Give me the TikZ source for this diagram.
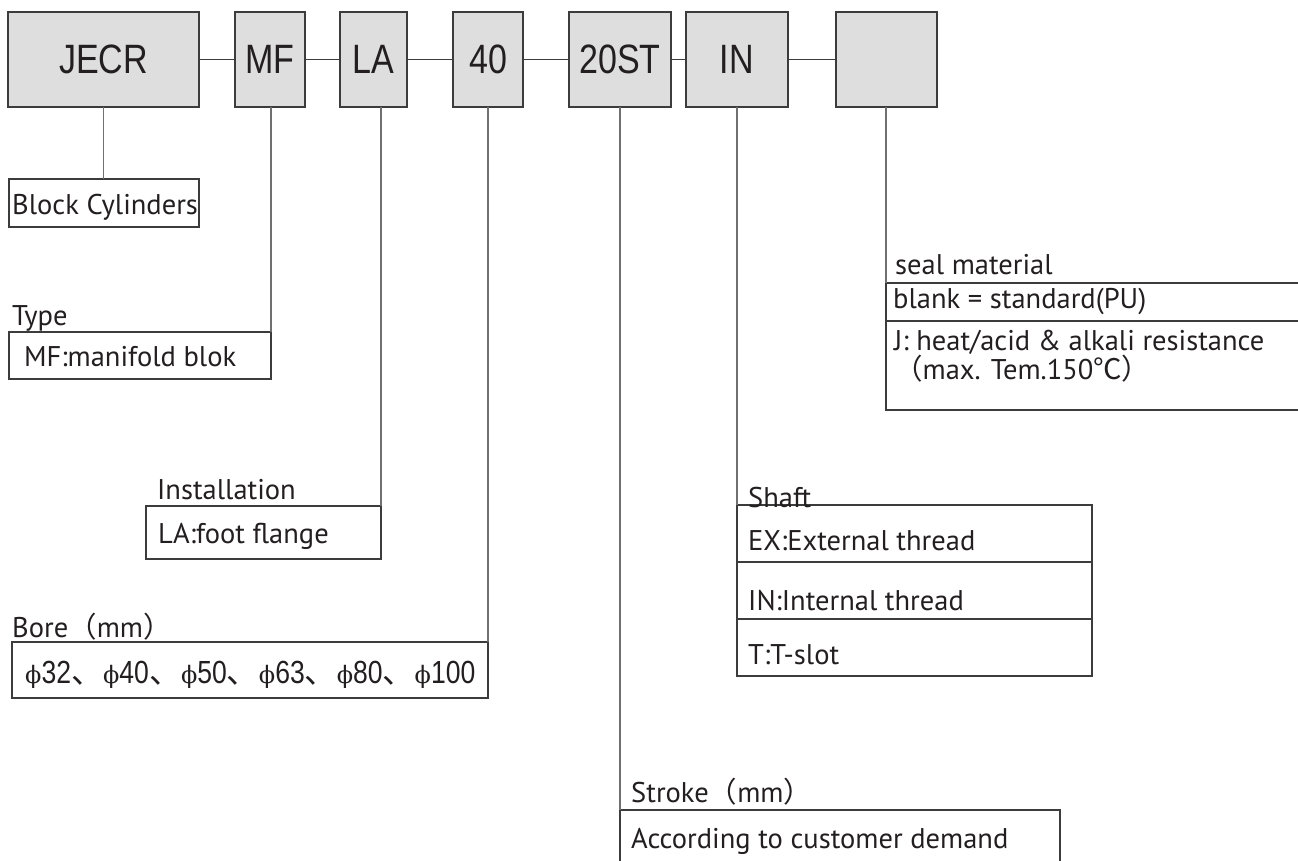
\documentclass[tikz,border=0pt]{standalone}
\usepackage{fontspec}
\setmainfont{PT Sans}
\newfontfamily\codefont[FakeStretch=0.83]{Liberation Sans}
\newfontfamily\cjk{Noto Sans CJK SC}
\newfontfamily\phifont{DejaVu Serif}
\newcommand{\dia}{{\phifont\fontsize{24}{24}\selectfont ϕ}}
\newcommand{\dun}{{\cjk 、}}
\usetikzlibrary{positioning}
\definecolor{boxfill}{HTML}{DEDEDE}
\definecolor{boxline}{HTML}{3C3C3C}
\definecolor{stemline}{HTML}{707070}
\definecolor{ink}{HTML}{231F20}

\begin{document}
\begin{tikzpicture}[
  x=1pt,
  y=-1pt,
  every node/.style={text=ink},
  code/.style={draw=boxline, fill=boxfill, line width=1.2pt, minimum height=95, inner sep=0pt, outer sep=0pt, font=\codefont\fontsize{41}{41}\selectfont},
  desc/.style={draw=boxline, line width=1.1pt, anchor=north west, inner sep=0pt, outer sep=0pt},
  txt/.style={anchor=base west, inner sep=0pt, font=\fontsize{28.5}{29}\selectfont},
  link/.style={draw=boxline, line width=1.4pt},
  stem/.style={draw=stemline, line width=1.1pt}
]
  \clip (0,0) rectangle (1298,860);

  \node[code, minimum width=191] (cseries) at (103.5,59.5) {JECR};
  \node[code, minimum width=70] (ctype) at (270,59.5) {MF};
  \node[code, minimum width=67] (cmount) at (373.5,59.5) {LA};
  \node[code, minimum width=70] (cbore) at (488,59.5) {40};
  \node[code, minimum width=102] (cstroke) at (620,59.5) {20ST};
  \node[code, minimum width=102] (cshaft) at (737,59.5) {IN};
  \node[code, minimum width=101] (cseal) at (886.5,59.5) {};

  \draw[link] (cseries) -- (ctype);
  \draw[link] (ctype) -- (cmount);
  \draw[link] (cmount) -- (cbore);
  \draw[link] (cbore) -- (cstroke);
  \draw[link] (cstroke) -- (cshaft);
  \draw[link] (cshaft) -- (cseal);

  \node[desc, minimum width=190, minimum height=48] (series) at (9,179) {};
  \node[desc, minimum width=262, minimum height=47] (type) at (9,332) {};
  \node[desc, minimum width=235, minimum height=53] (mount) at (146,506) {};
  \node[desc, minimum width=476, minimum height=56] (bore) at (12,642) {};
  \node[desc, minimum width=440, minimum height=70] (stroke) at (620,810) {};
  \node[desc, minimum width=355, minimum height=57] (shaftex) at (737,505) {};
  \node[desc, minimum width=355, minimum height=57] (shaftin) at (737,562) {};
  \node[desc, minimum width=355, minimum height=57] (shaftt) at (737,619) {};
  \node[desc, minimum width=430, minimum height=38] (sealstd) at (886,283) {};
  \node[desc, minimum width=430, minimum height=89] (sealj) at (886,321) {};

  \draw[stem] (cseries.south) -- (cseries.south |- series.north);
  \draw[stem] (type.north east |- ctype.south) -- (type.north east);
  \draw[stem] (mount.north east |- cmount.south) -- (mount.north east);
  \draw[stem] (bore.north east |- cbore.south) -- (bore.north east);
  \draw[stem] (stroke.north west |- cstroke.south) -- (stroke.north west);
  \draw[stem] (shaftex.north west |- cshaft.south) -- (shaftex.north west);
  \draw[stem] (sealstd.north west |- cseal.south) -- (sealstd.north west);

  \node[txt] (seriestxt) at (12,214) {Block Cylinders};
  \node[txt] (typelbl) at (12,325) {Type};
  \node[txt] (typetxt) at (24,366) {MF:manifold blok};
  \node[txt] (mountlbl) at (157,499) {Installation};
  \node[txt] (mounttxt) at (158,543) {LA:foot flange};
  \node[txt] (borelbl) at (12,637) {Bore{\cjk （}mm{\cjk ）}};
  \node[txt, font=\codefont\fontsize{32}{32}\selectfont] (boretxt) at (25,683)
    {\dia32\dun\dia40\dun\dia50\dun\dia63\dun\dia80\dun\dia100};
  \node[txt] (strokelbl) at (631,802) {Stroke{\cjk （}mm{\cjk ）}};
  \node[txt] (stroketxt) at (631,848) {According to customer demand};
  \node[txt] (shaftlbl) at (748,507) {Shaft};
  \node[txt] (shaftextxt) at (748,550) {EX:External thread};
  \node[txt] (shaftintxt) at (748,610) {IN:Internal thread};
  \node[txt] (shaftttxt) at (748,664) {T:T-slot};
  \node[txt] (seallbl) at (895,274) {seal material};
  \node[txt] (sealstdtxt) at (893,308) {blank = standard(PU)};
  \node[txt, align=left] (sealjtxt) at (894,379) {J: heat/acid \& alkali resistance\\{\cjk （}max. Tem.150{\cjk ℃}{\cjk ）}};
\end{tikzpicture}
\end{document}
